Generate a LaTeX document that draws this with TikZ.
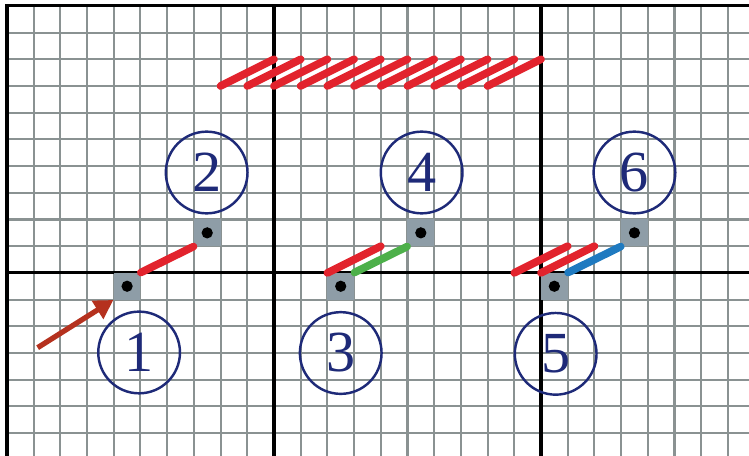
\documentclass[tikz,border=0pt]{standalone}
\usepackage{fontspec}
\setmainfont{Liberation Serif}
\usepackage{tikz}
\usetikzlibrary{arrows.meta,positioning}

\definecolor{gridgray}{HTML}{8A9292}
\definecolor{slate}{HTML}{8E9DA7}
\definecolor{stitchred}{HTML}{E2232D}
\definecolor{stitchgreen}{HTML}{4DB04A}
\definecolor{stitchblue}{HTML}{1F7AC0}
\definecolor{needlered}{HTML}{B5311E}
\definecolor{navy}{HTML}{1E2A78}

\begin{document}
\begin{tikzpicture}[
    x=0.5cm, y=0.5cm,
    gridline/.style={draw=gridgray, line width=1.1pt},
    axis/.style={draw=black, line width=1.7pt},
    hole/.style={rectangle, fill=slate, minimum size=0.5cm, inner sep=0pt},
    stitch/.style={line width=4.1pt, line cap=round},
    badge/.style={circle, draw=navy, line width=1.3pt, minimum size=1.53cm, inner sep=0pt, text=navy, font=\fontsize{31}{34}\selectfont},
    needle/.style={-{Triangle[length=10pt,width=11pt]}, draw=needlered, line width=2.8pt}
]
    \useasboundingbox (-10.26,-6.85) rectangle (17.79,10.22);
    \fill[white] (-10.26,-6.85) rectangle (17.79,10.22);

    % grid and axes
    \foreach \gx in {-9,...,17}
        \draw[gridline] (\gx,-6.85) -- (\gx,10);
    \foreach \gy in {-6,...,9}
        \draw[gridline] (-10,\gy) -- (17.79,\gy);
    \draw[axis] (-10,-6.85) -- (-10,10) -- (17.79,10);
    \draw[axis] (-10,0) -- (17.79,0);
    \draw[axis] (0,-6.85) -- (0,10);
    \draw[axis] (10,-6.85) -- (10,10);

    % holes
    \node[hole] (sq1) at (-5.5,-0.5) {};
    \node[hole] (sq2) at (-2.5,1.5) {};
    \node[hole] (sq3) at (2.5,-0.5) {};
    \node[hole] (sq4) at (5.5,1.5) {};
    \node[hole] (sq5) at (10.5,-0.5) {};
    \node[hole] (sq6) at (13.5,1.5) {};
    \foreach \s in {sq1,sq2,sq3,sq4,sq5,sq6}
        \fill (\s) circle (3pt);

    % stitches
    \foreach \i in {-2,...,8}
        \draw[stitch, stitchred] (\i,7) -- (\i+2,8);
    \draw[stitch, stitchred] (sq1.north east) -- (sq2.south west);
    \draw[stitch, stitchred] (2,0) -- (4,1);
    \draw[stitch, stitchgreen] (sq3.north east) -- (sq4.south west);
    \draw[stitch, stitchred] (9,0) -- (11,1);
    \draw[stitch, stitchred] (10,0) -- (12,1);
    \draw[stitch, stitchblue] (sq5.north east) -- (sq6.south west);

    % numbers
    \node[badge] (num1) at (-5.05,-2.98) {1};
    \node[badge] (num2) at (-2.52,3.76) {2};
    \node[badge] (num3) at (2.5,-3.0) {3};
    \node[badge] (num4) at (5.53,3.76) {4};
    \node[badge] (num5) at (10.55,-3.03) {5};
    \node[badge] (num6) at (13.5,3.76) {6};

    % needle
    \coordinate (tail) at (-8.85,-2.8);
    \draw[needle] (tail) -- (sq1.south west);
\end{tikzpicture}
\end{document}
